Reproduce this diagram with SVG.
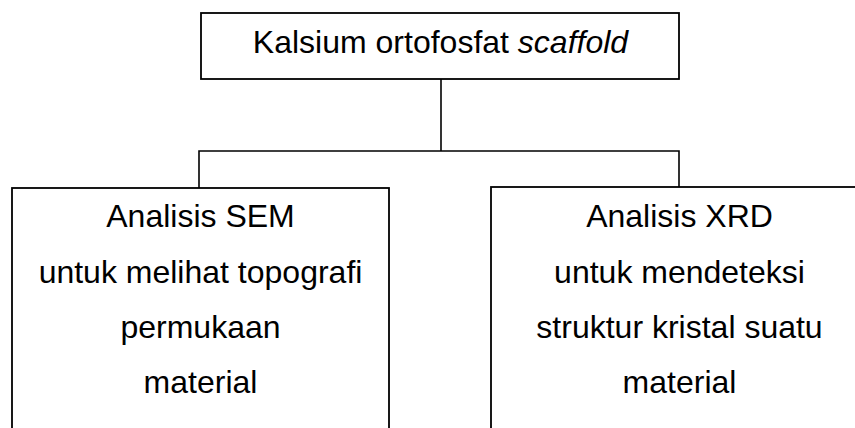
<svg xmlns="http://www.w3.org/2000/svg" width="855" height="428" viewBox="0 0 855 428">
  <style>
    .box { fill: #ffffff; stroke: #000000; stroke-width: 1.8; }
    .conn { fill: none; stroke: #000000; stroke-width: 1.6; }
    .lbl { font-family: "Liberation Sans", Arial, sans-serif; font-size: 32px; fill: #000000; text-anchor: middle; }
  </style>
  <rect width="855" height="428" fill="#ffffff"/>
  <g id="connectors">
    <line class="conn" x1="441" y1="79" x2="441" y2="151"/>
    <polyline class="conn" points="199,188 199,151 679,151 679,187"/>
  </g>
  <g id="node-top">
    <rect class="box" x="201" y="13" width="478" height="66"/>
    <text class="lbl" x="440.5" y="53">Kalsium ortofosfat <tspan font-style="italic">scaffold</tspan></text>
  </g>
  <g id="node-sem">
    <rect class="box" x="12" y="188" width="377" height="260"/>
    <text class="lbl" x="200.5" y="227">Analisis SEM</text>
    <text class="lbl" x="200.5" y="283">untuk melihat topografi</text>
    <text class="lbl" x="200.5" y="338">permukaan</text>
    <text class="lbl" x="200.5" y="393">material</text>
  </g>
  <g id="node-xrd">
    <rect class="box" x="491" y="187" width="380" height="260"/>
    <text class="lbl" x="679.5" y="227">Analisis XRD</text>
    <text class="lbl" x="679.5" y="283">untuk mendeteksi</text>
    <text class="lbl" x="679.5" y="338">struktur kristal suatu</text>
    <text class="lbl" x="679.5" y="393">material</text>
  </g>
</svg>
